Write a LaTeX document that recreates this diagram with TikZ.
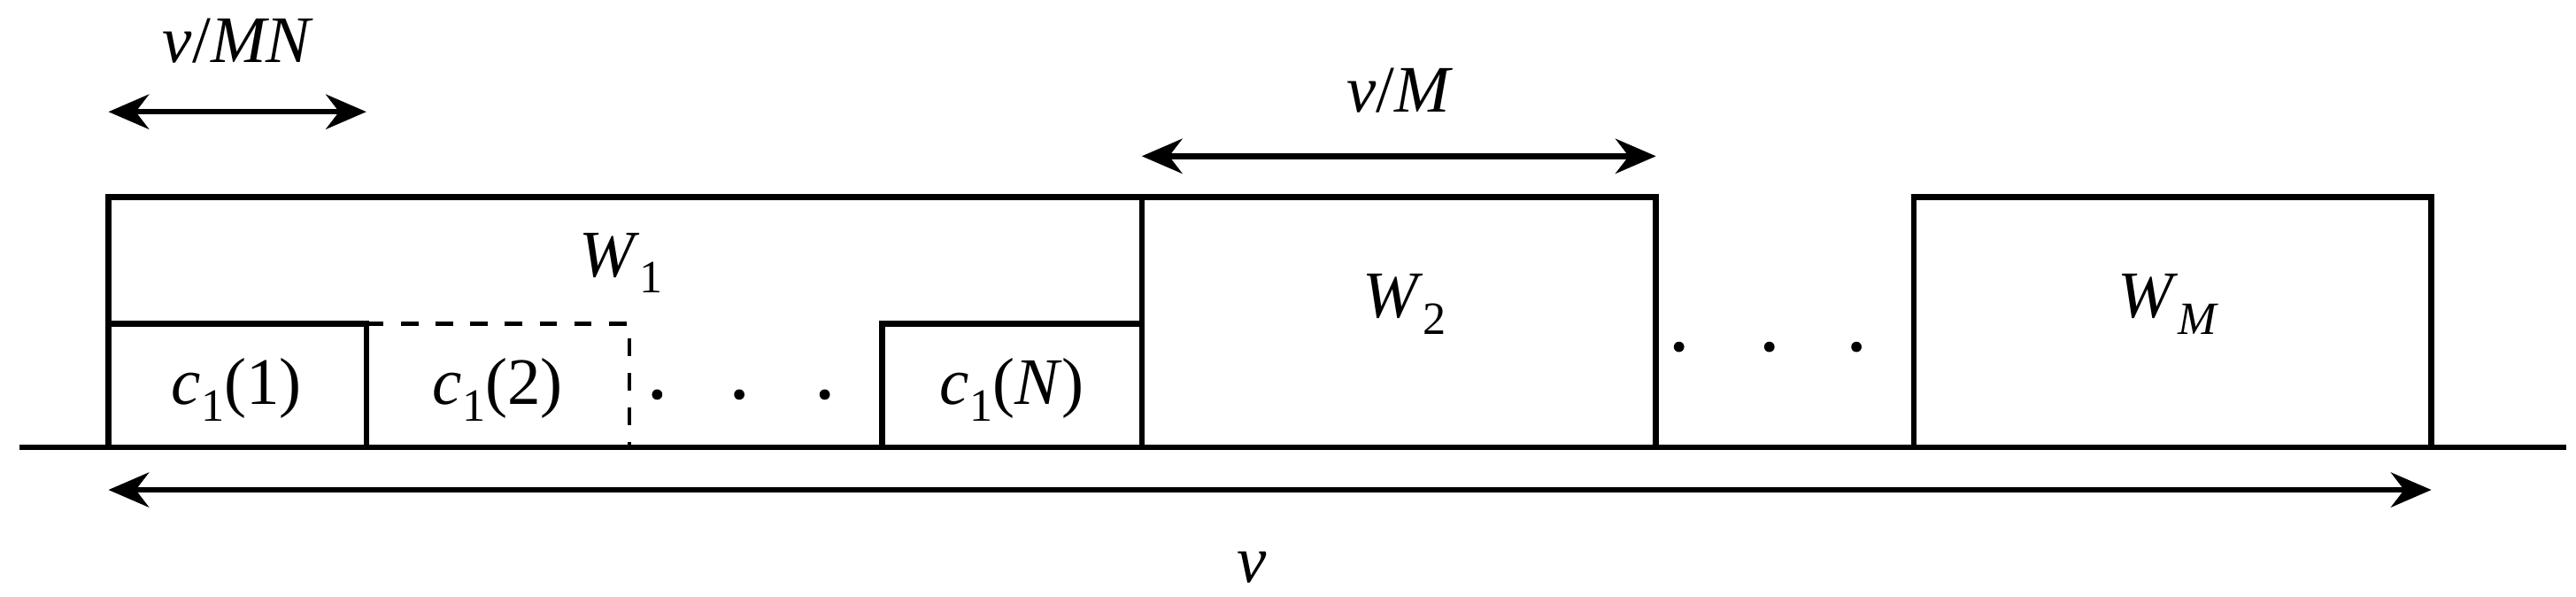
\documentclass[tikz,border=0pt]{standalone}
\usepackage{fontspec}
\setmainfont{Liberation Serif}
\usetikzlibrary{arrows.meta}
\newcommand{\sbs}[1]{\raisebox{-0.25em}{\fontsize{8}{9}\selectfont #1}}
\begin{document}
\begin{tikzpicture}[x=0.01cm,y=-0.01cm,
  box/.style={line width=1pt},
  dim/.style={line width=1pt,{Stealth[length=7pt,width=6pt]}-{Stealth[length=7pt,width=6pt]}},
  lbl/.style={font=\fontsize{11.5}{13}\selectfont, inner sep=0pt},
  dot/.style={circle,fill=black,inner sep=0pt,minimum size=1.8pt}]
\useasboundingbox (0,0) rectangle (1568,363);
\coordinate (bl) at (12,272); \coordinate (br) at (1562,272);
\draw[box] (bl) -- (br);
% W1
\draw[box] (66,272) -- (66,120) -- (695,120) -- (695,272);
\node[lbl] (w1) at (378,160) {\textit{W}\sbs{1}};
\draw[box] (66,197) -- (223,197) -- (223,272);
\draw[box,dashed,line width=0.7pt] (223,197) -- (383,197) -- (383,272);
\draw[box] (537,272) -- (537,197) -- (695,197);
\node[lbl] (c1) at (144,237) {\textit{c}\sbs{1}(1)};
\node[lbl] (c2) at (303,237) {\textit{c}\sbs{1}(2)};
\node[lbl] (cN) at (616,237) {\textit{c}\sbs{1}(\textit{N})};
\node[dot] (d1) at (400,240) {}; \node[dot] (d2) at (450,240) {}; \node[dot] (d3) at (502,240) {};
% W2
\draw[box] (695,120) rectangle (1008,272);
\node[lbl] (w2) at (855,185) {\textit{W}\sbs{2}};
\node[dot] (e1) at (1022,211) {}; \node[dot] (e2) at (1077,211) {}; \node[dot] (e3) at (1130,211) {};
% WM
\draw[box] (1165,272) -- (1165,120) -- (1480,120) -- (1480,272);
\node[lbl] (wm) at (1320,185) {\textit{W}\sbs{\textit{M}}};
% dimension arrows
\coordinate (a1) at (66,68); \coordinate (a2) at (223,68);
\draw[dim] (a1) -- (a2);
\node[lbl] (lmn) at (145,25) {\textit{v}/\textit{MN}};
\coordinate (b1) at (695,95); \coordinate (b2) at (1008,95);
\draw[dim] (b1) -- (b2);
\node[lbl] (lm) at (852,55) {\textit{v}/\textit{M}};
\coordinate (v1) at (66,298); \coordinate (v2) at (1480,298);
\draw[dim] (v1) -- (v2);
\node[lbl] (lv) at (762,345) {\textit{v}};
\end{tikzpicture}
\end{document}
